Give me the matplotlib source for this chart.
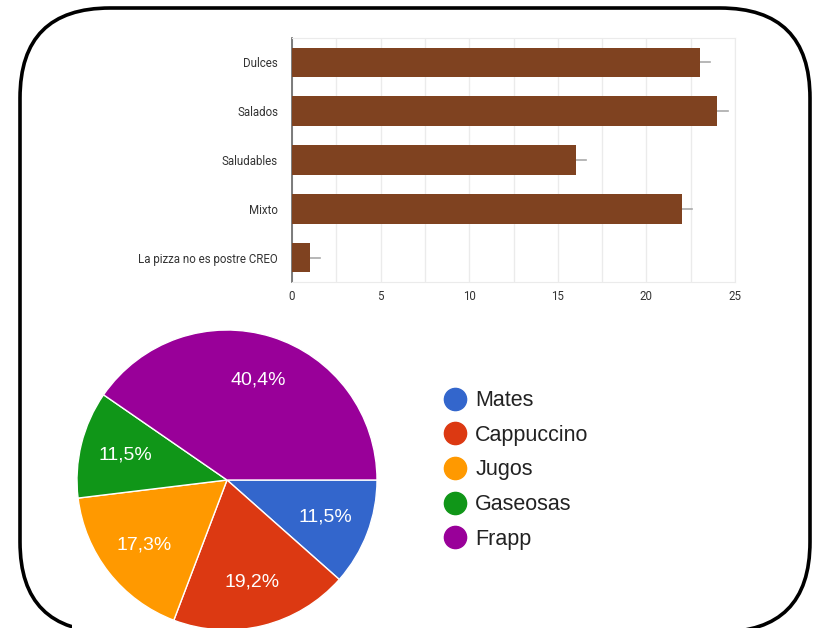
import matplotlib.pyplot as plt
from matplotlib.patches import FancyBboxPatch, Rectangle
from matplotlib.lines import Line2D

# Bar chart data
categorias = ["Dulces", "Salados", "Saludables", "Mixto", "La pizza no es postre CREO"]
votos = [23, 24, 16, 22, 1]
extra = [0.6, 0.6, 0.6, 0.6, 0.6]   # small gray whisker right of each bar
x_ticks = [0, 5, 10, 15, 20, 25]

# Pie chart data
bebidas = ["Mates", "Cappuccino", "Jugos", "Gaseosas", "Frapp"]
respuestas = [6, 10, 9, 6, 21]
colores = ["#3366cc", "#dc3912", "#ff9900", "#109618", "#990099"]

W, H = 821, 628
fig = plt.figure(figsize=(W / 100, H / 100), dpi=100)
fuente = ["Roboto", "DejaVu Sans"]
fuente_pie = ["Liberation Sans", "DejaVu Sans"]

# background with the rounded frame (pixel coordinates)
bg = fig.add_axes([0, 0, 1, 1])
bg.set_xlim(0, W)
bg.set_ylim(H, 0)
bg.axis("off")
r = 90
frame = FancyBboxPatch((20 + r, 8 + r), 810 - 20 - 2 * r, 632 - 8 - 2 * r,
                       boxstyle=f"round,pad={r}",
                       fc="white", ec="black", lw=2.6)
bg.add_patch(frame)
bg.add_patch(Rectangle((72, 597), 665, 40, fc="white", ec="none"))

# bar chart
ax = fig.add_axes([292 / W, 1 - 282 / H, (735 - 292) / W, (282 - 38) / H])
y = list(range(len(categorias)))
ax.barh(y, votos, height=0.61, color="#7f4220", zorder=3)
for yi, v, e in zip(y, votos, extra):
    ax.plot([v, v + e], [yi, yi], color="#aaaaaa", lw=1.2, zorder=2)
ax.set_ylim(len(categorias) - 0.5, -0.5)
ax.set_xlim(0, 25)
ax.set_xticks(x_ticks)
ax.set_xticks([2.5 * i for i in range(11)], minor=True)
ax.grid(axis="x", which="both", color="#ebebeb", lw=1, zorder=0)
ax.set_yticks(y)
ax.set_yticklabels(categorias)
ax.tick_params(length=0, labelsize=8.3, labelcolor="#333333", which="both")
ax.tick_params(axis="y", pad=10)
ax.tick_params(axis="x", pad=6)
for lab in ax.get_xticklabels() + ax.get_yticklabels():
    lab.set_family(fuente)
for s in ["top", "right", "bottom"]:
    ax.spines[s].set_color("#ebebeb")
ax.spines["left"].set_color("#666666")
ax.spines["left"].set_linewidth(1.2)

# pie chart
pax = fig.add_axes([77 / W, 1 - 630 / H, 300 / W, 300 / H])
wedges, _, autotexts = pax.pie(
    respuestas, colors=colores, startangle=0, counterclock=False,
    autopct=lambda p: f"{p:.1f}%".replace(".", ","), pctdistance=0.7,
    wedgeprops=dict(edgecolor="white", linewidth=1),
    textprops=dict(color="white", fontsize=14, family=fuente_pie))
pax.set_xlim(-1, 1)
pax.set_ylim(-1, 1)
pax.set_aspect("equal")

handles = [Line2D([], [], ls="none", marker="o", ms=16, mfc=c, mec=c) for c in colores]
fig.legend(handles, bebidas, loc="upper left", bbox_to_anchor=(423 / W, 1 - 371 / H),
           frameon=False, handletextpad=0.33, labelspacing=0.63, handlelength=1.2,
           prop=dict(family=fuente_pie, size=15.5), labelcolor="#222222")

fig.savefig("out.png", dpi=100)
